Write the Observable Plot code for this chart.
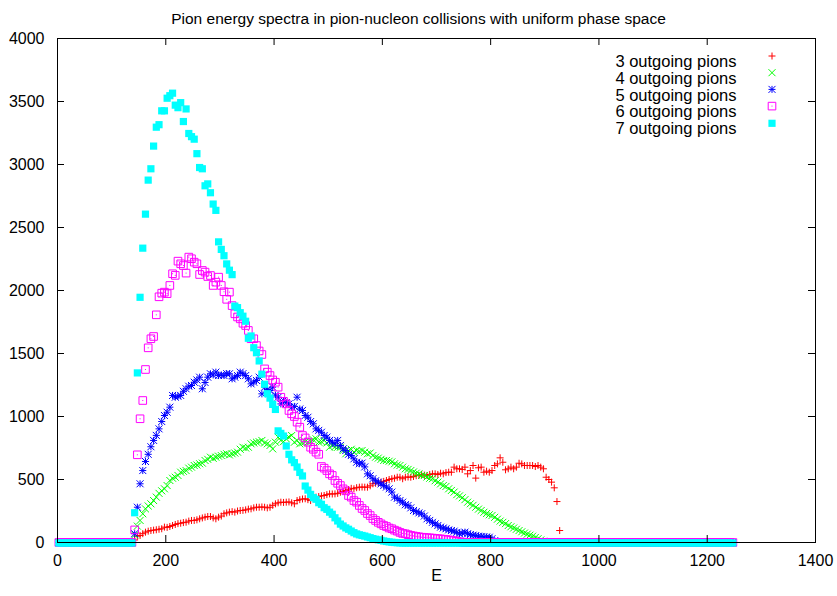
<!DOCTYPE html>
<html>
<head>
<meta charset="utf-8">
<script src="https://cdn.jsdelivr.net/npm/d3@7"></script>
<script src="https://cdn.jsdelivr.net/npm/@observablehq/plot@0.6"></script>
<style>
  html, body { margin: 0; padding: 0; background: #fff; }
</style>
</head>
<body>
<div id="chart"></div>
<script>
const title = "Pion energy spectra in pion-nucleon collisions with uniform phase space";
const xLabel = "E";
const seriesLabels = ["3 outgoing pions", "4 outgoing pions", "5 outgoing pions", "6 outgoing pions", "7 outgoing pions"];
const seriesColors = ["#ff0000", "#00ff00", "#0000ff", "#ff00ff", "#00ffff"];
const xTicks = [0, 200, 400, 600, 800, 1000, 1200, 1400];
const yTicks = [0, 500, 1000, 1500, 2000, 2500, 3000, 3500, 4000];

// histogram bins: centers at binStart + k*binWidth, k = 0..binCount-1
const binStart = 2.5;
const binWidth = 5;
const binCount = 250;
const firstFilledBin = 28; // E = 142.5; all bins before are 0, and bins after each list are 0

const counts3 = [20,50,56,70,82,90,95,98,101,105,109,122,120,127,135,143,150,153,158,161,170,175,175,180,188,195,201,206,206,195,188,201,210,228,235,241,245,241,250,254,255,259,265,267,275,280,280,282,280,275,280,295,307,315,320,318,320,322,315,307,333,340,345,347,340,333,350,360,365,370,373,380,386,385,386,390,399,405,413,420,430,426,435,439,440,439,439,450,466,470,475,479,485,492,500,506,510,518,518,506,518,520,518,524,530,532,540,535,532,540,545,545,540,550,545,555,558,558,598,585,585,580,598,545,571,611,511,593,598,558,566,558,571,611,624,672,637,577,585,598,585,598,629,624,611,611,611,611,603,611,598,585,518,500,479,434,325,95];
const counts4 = [60,130,175,228,267,290,307,333,360,390,410,426,452,492,510,518,532,558,565,571,590,598,611,615,625,630,651,660,677,668,677,685,690,700,704,695,704,710,717,740,756,750,756,783,790,796,800,810,790,783,770,743,796,836,810,800,823,836,849,796,810,783,790,800,796,805,815,823,796,800,810,790,756,770,760,756,756,730,704,730,740,717,730,725,730,717,704,710,690,677,670,660,651,651,645,640,625,615,611,598,585,580,571,560,550,545,532,532,520,510,506,490,479,465,452,445,426,413,400,380,370,355,340,320,307,295,280,265,254,240,230,220,214,200,185,170,160,150,135,125,115,105,95,85,75,66,58,50,40,30,20,10,5];
const counts5 = [70,280,466,571,643,700,760,810,850,902,960,1008,1034,1074,1167,1153,1160,1167,1200,1220,1240,1246,1272,1290,1312,1220,1270,1312,1339,1330,1352,1325,1330,1325,1340,1339,1299,1312,1325,1352,1340,1325,1299,1259,1272,1286,1312,1180,1233,1215,1206,1233,1170,1153,1100,1127,1110,1100,1074,1080,1153,1060,1048,1008,994,960,942,902,890,875,849,836,810,796,783,810,770,743,730,700,690,664,637,625,630,600,545,530,506,490,479,465,452,440,426,400,360,350,333,320,300,294,275,254,245,235,228,210,188,175,160,148,135,122,115,109,100,95,90,80,69,75,82,70,63,58,55,50,48,45,43,42,30,15,5];
const counts6 = [100,696,982,1127,1373,1545,1617,1635,1807,1950,1979,1987,1975,2040,2133,2120,2233,2212,2198,2138,2265,2252,2225,2212,2127,2159,2146,2111,2119,2040,2066,2106,2040,1990,1930,1987,1880,1815,1790,1775,1740,1722,1683,1617,1617,1563,1520,1492,1378,1352,1325,1290,1272,1233,1153,1120,1100,1048,1021,1000,955,915,849,830,796,756,740,717,700,603,590,571,545,532,492,470,452,426,410,373,360,333,320,294,270,254,230,214,190,175,160,148,135,127,115,109,98,90,80,72,69,62,56,52,48,45,42,40,38,37,35,33,30,29,26,24,21,18,14,10,6,3];
const counts7 = [240,1350,1950,2340,2610,2880,2970,3150,3300,3320,3430,3430,3530,3550,3570,3475,3455,3495,3345,3445,3250,3225,3205,3090,2980,2970,2835,2850,2780,2690,2640,2390,2330,2280,2215,2165,2130,1880,1868,1828,1800,1760,1625,1643,1550,1510,1445,1340,1260,1185,1150,1100,1060,890,870,849,770,704,660,638,603,560,532,452,420,386,360,347,320,307,280,267,245,228,200,175,150,135,120,109,95,82,72,65,60,55,48,42,35,30,25,21,16,12,9,6,4,2,1];

const seriesCounts = [counts3, counts4, counts5, counts6, counts7];

// gnuplot-style point types
const H = 3.5;
const B = 3.8;
const F = 3.6;
const plusSym = {draw(c) { c.moveTo(-H, 0); c.lineTo(H, 0); c.moveTo(0, -H); c.lineTo(0, H); }};
const crossSym = {draw(c) { c.moveTo(-H, -H); c.lineTo(H, H); c.moveTo(-H, H); c.lineTo(H, -H); }};
const starSym = {draw(c) {
  c.moveTo(-H, 0); c.lineTo(H, 0); c.moveTo(0, -H); c.lineTo(0, H);
  c.moveTo(-H, -H); c.lineTo(H, H); c.moveTo(-H, H); c.lineTo(H, -H);
}};
const boxSym = {draw(c) { c.rect(-B, -B, 2 * B, 2 * B); c.moveTo(-0.5, 0); c.lineTo(0.5, 0); }};
const fboxSym = {draw(c) { c.rect(-F, -F + 0.5, 2 * F, 2 * F); }};
const symbols = [plusSym, crossSym, starSym, boxSym, fboxSym];
const filled = [false, false, false, false, true];

const tables = seriesCounts.map((arr) => {
  const rows = [];
  for (let k = 0; k < binCount; k++) {
    const j = k - firstFilledBin;
    rows.push({E: binStart + k * binWidth, count: (j >= 0 && j < arr.length) ? arr[j] : 0});
  }
  return rows;
});

const dotStyle = (i) => ({
  symbol: symbols[i],
  fill: filled[i] ? seriesColors[i] : "none",
  stroke: filled[i] ? "none" : seriesColors[i],
  strokeWidth: 1
});

const marks = [];
tables.forEach((rows, i) => marks.push(Plot.dot(rows, {x: "E", y: "count", ...dotStyle(i)})));

// legend (top right, inside the frame)
seriesLabels.forEach((lab, i) => {
  marks.push(Plot.text([lab], {frameAnchor: "top-right", dx: -79, dy: 17 + 16.7 * i, textAnchor: "end", fontSize: 16.5, fill: "black"}));
  marks.push(Plot.dot([lab], {frameAnchor: "top-right", dx: -43.5, dy: 17.5 + 16.7 * i, ...dotStyle(i)}));
});

// inward ticks on all four sides (gnuplot style, mirrored)
marks.push(Plot.ruleX(xTicks, {x: (d) => d, insetTop: 497, stroke: "black"}));
marks.push(Plot.ruleX(xTicks, {x: (d) => d, insetBottom: 497, stroke: "black"}));
marks.push(Plot.ruleY(yTicks, {y: (d) => d, insetRight: 751, stroke: "black"}));
marks.push(Plot.ruleY(yTicks, {y: (d) => d, insetLeft: 751, stroke: "black"}));
marks.push(Plot.frame({stroke: "black", strokeWidth: 1}));

// tick labels
marks.push(Plot.axisX({ticks: xTicks, tickSize: 0, tickPadding: 12, tickFormat: "d", label: null, fontSize: 16}));
marks.push(Plot.axisY({ticks: yTicks, tickSize: 0, tickPadding: 13, tickFormat: "d", label: null, fontSize: 16}));

// axis label and title
marks.push(Plot.text([xLabel], {frameAnchor: "bottom", dy: 38, fontSize: 16, fill: "black"}));
marks.push(Plot.text([title], {frameAnchor: "top", dy: -26, dx: -18, fontSize: 15.5, fill: "black"}));

const chart = Plot.plot({
  width: 837,
  height: 596,
  marginLeft: 57,
  marginRight: 22,
  marginTop: 38,
  marginBottom: 54,
  style: {fontFamily: "'Liberation Sans', Arial, sans-serif", background: "#fff", color: "black", overflow: "visible"},
  x: {domain: [0, 1400]},
  y: {domain: [0, 4000]},
  marks
});
document.getElementById("chart").appendChild(chart);
</script>
</body>
</html>
